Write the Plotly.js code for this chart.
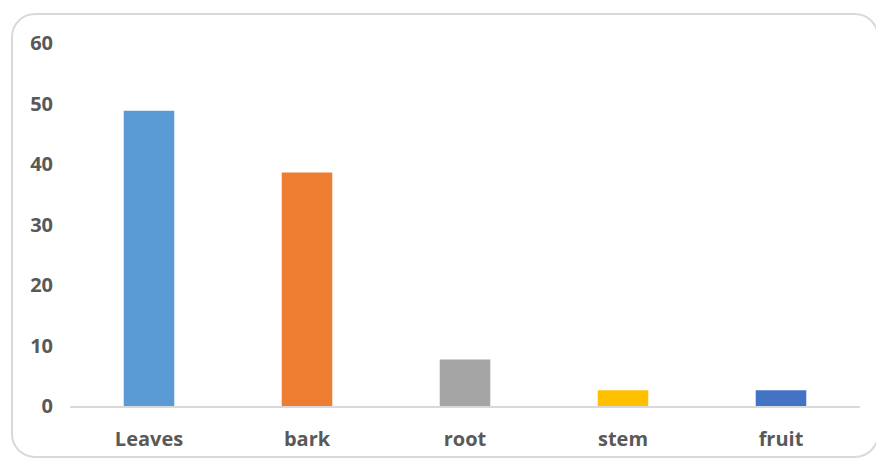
<!DOCTYPE html>
<html>
<head>
<meta charset="utf-8">
<script src="https://cdn.plot.ly/plotly-3.0.1.min.js"></script>
<style>
  html, body { margin: 0; padding: 0; background: #fff; }
  #wrap { position: relative; width: 876px; height: 462px; overflow: hidden; }
  #frame { position: absolute; left: 11px; top: 13px; width: 868px; height: 445px;
           border: 2px solid #d9d9d9; border-radius: 24px; box-sizing: border-box; }
  #chart { position: absolute; left: 0; top: 0; width: 876px; height: 462px; }
</style>
</head>
<body>
<div id="wrap">
  <div id="frame"></div>
  <div id="chart"></div>
</div>
<script>
const categories = ["Leaves", "bark", "root", "stem", "fruit"];
const values = [48.8, 38.6, 7.7, 2.6, 2.6];
const colors = ["#5B9BD5", "#ED7D31", "#A5A5A5", "#FFC000", "#4472C4"];
const yTicks = [0, 10, 20, 30, 40, 50, 60];

const trace = {
  type: "bar",
  x: categories,
  y: values,
  marker: { color: colors },
  hoverinfo: "x+y"
};

const tickFont = { family: "'Open Sans', sans-serif", size: 20, color: "#595959", weight: "bold" };

const layout = {
  width: 876,
  height: 462,
  margin: { l: 70, r: 16, t: 43, b: 56 },
  paper_bgcolor: "rgba(0,0,0,0)",
  plot_bgcolor: "rgba(0,0,0,0)",
  showlegend: false,
  bargap: 0.68,
  font: { family: "'Open Sans', sans-serif", color: "#595959" },
  xaxis: {
    type: "category",
    showline: true,
    linecolor: "#d9d9d9",
    linewidth: 2,
    showgrid: false,
    zeroline: false,
    ticks: "outside",
    ticklen: 14,
    tickcolor: "rgba(0,0,0,0)",
    tickfont: tickFont
  },
  yaxis: {
    range: [0, 60],
    tickvals: yTicks,
    showline: false,
    showgrid: false,
    zeroline: false,
    ticks: "outside",
    ticklen: 12,
    tickcolor: "rgba(0,0,0,0)",
    tickfont: tickFont
  }
};

Plotly.newPlot("chart", [trace], layout, { displayModeBar: false, staticPlot: true });
</script>
</body>
</html>
